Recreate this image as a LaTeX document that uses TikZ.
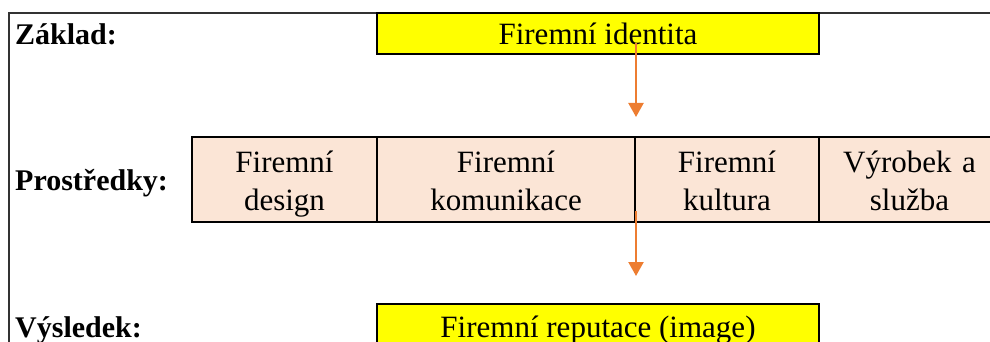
\documentclass[tikz,border=0pt]{standalone}
\usepackage{fontspec}
\setmainfont{Liberation Serif}
\usetikzlibrary{arrows.meta}
\definecolor{idyellow}{HTML}{FFFF00}
\definecolor{peach}{HTML}{FBE5D6}
\definecolor{arrorange}{HTML}{ED7D31}
\begin{document}
\begin{tikzpicture}[x=1pt,y=-1pt,
  txt/.style={font=\fontsize{31}{38}\selectfont},
  lbl/.style={font=\fontsize{30}{38}\selectfont\bfseries, anchor=base west, inner sep=0pt},
  frame/.style={draw=black!80, line width=1.6pt},
  yellowbox/.style={txt, draw, line width=2pt, fill=idyellow, inner sep=0pt, minimum width=442pt},
  cell/.style={txt, draw, line width=2pt, fill=peach, inner sep=0pt, text width=175pt, align=center,
    minimum height=85pt, text height=20pt, text depth=35pt},
  arr/.style={draw=arrorange, line width=2.2pt, -{Triangle[width=15pt,length=14pt]}}]
\useasboundingbox (0,0) rectangle (990,342);
\clip (0,0) rectangle (990,342);

% outer frame
\draw[frame] (9,400) -- (9,13) -- (1000,13);

% row labels
\node[lbl] (zaklad) at (15,45) {Základ:};
\node[lbl] (prostredky) at (15,190) {Prostředky:};
\node[lbl] (vysledek) at (15,337) {Výsledek:};

% base
\node[yellowbox, minimum height=41pt, text height=23pt, text depth=0pt] (ident) at (598,33.5) {Firemní identita};

% means
\node[cell, minimum width=185pt] (design) at (284.5,179.5) {Firemní\\design};
\node[cell, minimum width=258pt] (kom) at (506,179.5) {Firemní\\komunikace};
\node[cell, minimum width=184pt] (kult) at (727,179.5) {Firemní\\kultura};
\node[cell, minimum width=181pt] (vyrobek) at (909.5,179.5) {Výrobek a\\služba};

% result
\node[yellowbox, minimum height=66pt, text height=10pt, text depth=10pt] (rep) at (598,337) {Firemní reputace (image)};

% flow arrows
\draw[arr] ([yshift=12pt]ident.south -| kom.east) -- ([yshift=19pt]kom.north east);
\draw[arr] ([yshift=12pt]kom.south east) -- ([yshift=27pt]rep.north -| kom.east);
\end{tikzpicture}
\end{document}
